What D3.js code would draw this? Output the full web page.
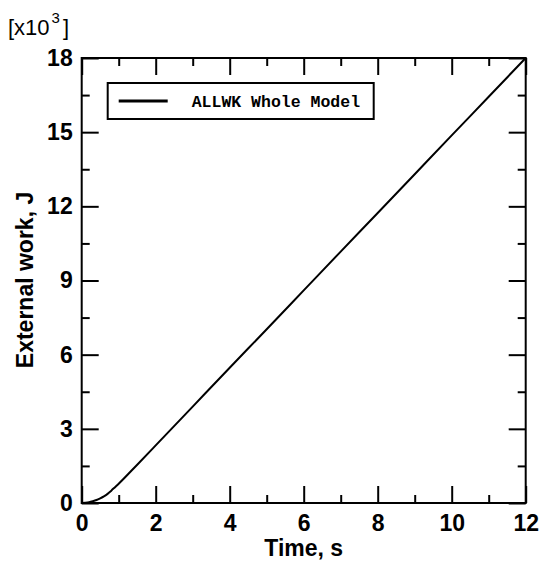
<!DOCTYPE html>
<html>
<head>
<meta charset="utf-8">
<script src="https://cdn.jsdelivr.net/npm/d3@7"></script>
<style>
  body { margin: 0; background: #fff; }
  .axis text { font-family: "Liberation Sans", Arial, sans-serif; font-weight: bold; font-size: 23px; fill: #000; }
  .axis line { stroke: #000; stroke-width: 2; }
</style>
</head>
<body>
<div class="chart"></div>
<script>
// time in s, external work in 10^3 J
const timeS = [0, 0.1, 0.2, 0.3, 0.4, 0.5, 0.6, 0.7, 0.8, 0.9, 1.0, 1.5, 2, 3, 4, 5, 6, 7, 8, 9, 10, 11, 12]
const workKJ = [0, 0.01, 0.03, 0.07, 0.12, 0.19, 0.27, 0.37, 0.5, 0.64, 0.78, 1.55, 2.33, 3.9, 5.47, 7.03, 8.6, 10.17, 11.73, 13.3, 14.87, 16.43, 18]

const xMajor = [0, 2, 4, 6, 8, 10, 12]
const xMinor = [1, 3, 5, 7, 9, 11]
const yMajor = [0, 3, 6, 9, 12, 15, 18]
const yMinor = [1.5, 4.5, 7.5, 10.5, 13.5, 16.5]
const legendLabel = "ALLWK Whole Model"

const W = 541, H = 564
const margin = ({top: 58, right: 15.3, bottom: 61, left: 81.7})
const width = W - margin.left - margin.right,
  height = H - margin.top - margin.bottom

const data = timeS.map((t, i) => ({t: t, w: workKJ[i]}))

const svg = d3.select(".chart").append("svg")
  .attr("width", W)
  .attr("height", H)

const g = svg.append("g")
  .attr("transform", "translate(" + margin.left + "," + margin.top + ")")

const x = d3.scaleLinear().domain([0, 12]).range([0, width])
const y = d3.scaleLinear().domain([0, 18]).range([height, 0])

// bottom axis with labels, major + minor ticks pointing inwards
g.append("g").attr("class", "axis")
  .attr("transform", `translate(0, ${height})`)
  .call(d3.axisBottom(x).tickValues(xMajor).tickSize(-17).tickSizeOuter(0).tickPadding(12).tickFormat(d3.format("d")))
g.append("g").attr("class", "axis")
  .attr("transform", `translate(0, ${height})`)
  .call(d3.axisBottom(x).tickValues(xMinor).tickSize(-8).tickSizeOuter(0).tickFormat(""))

// top axis, ticks only
g.append("g").attr("class", "axis")
  .call(d3.axisTop(x).tickValues(xMajor).tickSize(-17).tickSizeOuter(0).tickFormat(""))
g.append("g").attr("class", "axis")
  .call(d3.axisTop(x).tickValues(xMinor).tickSize(-8).tickSizeOuter(0).tickFormat(""))

// left axis
g.append("g").attr("class", "axis")
  .call(d3.axisLeft(y).tickValues(yMajor).tickSize(-17).tickSizeOuter(0).tickPadding(9).tickFormat(d3.format("d")))
g.append("g").attr("class", "axis")
  .call(d3.axisLeft(y).tickValues(yMinor).tickSize(-8).tickSizeOuter(0).tickFormat(""))

// right axis
g.append("g").attr("class", "axis")
  .attr("transform", `translate(${width}, 0)`)
  .call(d3.axisRight(y).tickValues(yMajor).tickSize(-17).tickSizeOuter(0).tickFormat(""))
g.append("g").attr("class", "axis")
  .attr("transform", `translate(${width}, 0)`)
  .call(d3.axisRight(y).tickValues(yMinor).tickSize(-8).tickSizeOuter(0).tickFormat(""))

g.selectAll(".axis .domain").remove()

// frame
g.append("rect")
  .attr("width", width)
  .attr("height", height)
  .attr("fill", "none")
  .attr("stroke", "black")
  .attr("stroke-width", 2)

const line = d3.line()
  .x(d => x(d.t))
  .y(d => y(d.w))
  .curve(d3.curveMonotoneX)

g.append("path")
  .datum(data)
  .attr("d", line)
  .attr("fill", "none")
  .attr("stroke", "black")
  .attr("stroke-width", 2)

// legend
const lg = g.append("g").attr("transform", "translate(26, 25)")
lg.append("rect")
  .attr("width", 266)
  .attr("height", 36)
  .attr("fill", "white")
  .attr("stroke", "black")
  .attr("stroke-width", 2)
lg.append("line")
  .attr("x1", 11).attr("x2", 60)
  .attr("y1", 18).attr("y2", 18)
  .attr("stroke", "black")
  .attr("stroke-width", 3)
lg.append("text")
  .attr("x", 84)
  .attr("y", 24)
  .attr("font-family", "'Liberation Mono', 'Courier New', monospace")
  .attr("font-weight", "bold")
  .attr("font-size", 16.5)
  .text(legendLabel)

// axis titles
svg.append("text")
  .attr("x", margin.left + width / 2)
  .attr("y", 556)
  .attr("text-anchor", "middle")
  .attr("font-family", "'Liberation Sans', Arial, sans-serif")
  .attr("font-weight", "bold")
  .attr("font-size", 23)
  .text("Time, s")

svg.append("text")
  .attr("transform", "translate(33, 280) rotate(-90)")
  .attr("text-anchor", "middle")
  .attr("font-family", "'Liberation Sans', Arial, sans-serif")
  .attr("font-weight", "bold")
  .attr("font-size", 23)
  .text("External work, J")

// multiplier
const mult = svg.append("text")
  .attr("x", 8)
  .attr("y", 35)
  .attr("font-family", "'Liberation Sans', Arial, sans-serif")
  .attr("font-size", 22)
mult.append("tspan").text("[x10")
mult.append("tspan").attr("font-size", 15).attr("dy", -12).attr("dx", 2).text("3")
mult.append("tspan").attr("dy", 12).attr("dx", 3).text("]")
</script>
</body>
</html>
